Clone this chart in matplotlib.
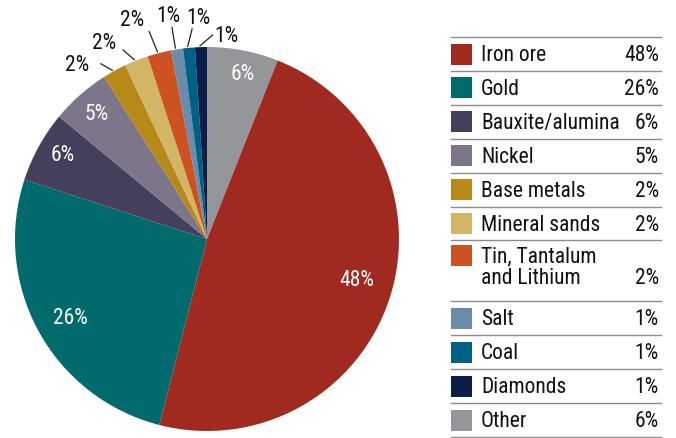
import numpy as np
import matplotlib
matplotlib.use("Agg")
import matplotlib.pyplot as plt
from matplotlib.patches import Rectangle

plt.rcParams['font.family'] = ['Roboto Condensed', 'Liberation Sans', 'DejaVu Sans']

# Share of mineral sales value by commodity (%)
categories = ["Iron ore", "Gold", "Bauxite/alumina", "Nickel", "Base metals",
              "Mineral sands", "Tin, Tantalum\nand Lithium", "Salt", "Coal",
              "Diamonds", "Other"]
shares = [48, 26, 6, 5, 2, 2, 2, 1, 1, 1, 6]
colors = ["#A12A20", "#016A6C", "#463F5C", "#7D7589", "#B68919",
          "#D2B566", "#CD5223", "#6A8CAA", "#016083", "#0B1E4A", "#959699"]
pct_labels = [f"{v}%" for v in shares]

W, H = 676, 439
fig = plt.figure(figsize=(W / 100, H / 100), dpi=100)
ax = fig.add_axes([0, 0, 1, 1])

FS = 15.5
CX, CY, R = 207, 199, 192

# pie: "Other" first, then clockwise from 12 o'clock
order = [len(shares) - 1] + list(range(len(shares) - 1))
wedges, _ = ax.pie([shares[i] for i in order],
                   colors=[colors[i] for i in order],
                   startangle=90, counterclock=False,
                   center=(CX, CY), radius=R,
                   wedgeprops=dict(linewidth=0))

def polar(theta_deg, r):
    t = np.deg2rad(theta_deg)
    return CX + r * R * np.cos(t), CY + r * R * np.sin(t)

mids = {}
for w, idx in zip(wedges, order):
    mids[idx] = 0.5 * (w.theta1 + w.theta2)

# labels inside the larger slices: (angle shift, radius)
inner = {0: (3.0, 0.81), 1: (1.0, 0.82), 2: (-1.5, 0.87),
         3: (0.0, 0.87), 10: (-1.5, 0.88)}
for idx, (da, r) in inner.items():
    x, y = polar(mids[idx] + da, r)
    ax.text(x, y, pct_labels[idx], color="white", fontsize=FS,
            ha="center", va="center")

# leader lines and labels outside the small slices:
# (line angle shift, line radius, text angle shift, text radius)
outer = {4: (2.5, 1.07, 7.8, 1.135),
         5: (2.4, 1.08, 6.0, 1.157),
         6: (1.2, 1.125, 4.5, 1.206),
         7: (0.4, 1.12, 0.9, 1.18),
         8: (-1.4, 1.10, -3.3, 1.157),
         9: (-3.5, 1.065, -7.2, 1.065)}
for idx, (dl, rl, dt, rt) in outer.items():
    m = mids[idx]
    x0, y0 = polar(m + 0.4, 1.005)
    x1, y1 = polar(m + dl, rl)
    ax.plot([x0, x1], [y0, y1], color="#222222", lw=0.9,
            solid_capstyle="butt")
    tx, ty = polar(m + dt, rt)
    ax.text(tx, ty, pct_labels[idx], color="#111111", fontsize=FS,
            ha="center", va="center")

# table-style legend on the right
LX0, LX1 = 451, 661
row_h = [33.9] * len(categories)
row_h[6] = 61
top = 38
rule_color = "#8C8C8C"
y = top
ax.plot([LX0, LX1], [H - y, H - y], color=rule_color, lw=1.0)
for i, name in enumerate(categories):
    sw_top = y + (5 if i == 6 else 6.5)
    ax.add_patch(Rectangle((LX0, H - sw_top - 21), 21, 21,
                           facecolor=colors[i], edgecolor="none"))
    if "\n" in name:
        first, second = name.split("\n")
        c1 = sw_top + 11
        ax.text(481, H - c1, first, fontsize=FS, color="#111111",
                ha="left", va="center")
        ax.text(481, H - c1 - 21.5, second, fontsize=FS, color="#111111",
                ha="left", va="center")
        ax.text(659, H - c1 - 21.5, pct_labels[i], fontsize=FS,
                color="#111111", ha="right", va="center")
    else:
        c = sw_top + 11
        ax.text(481, H - c, name, fontsize=FS, color="#111111",
                ha="left", va="center")
        ax.text(659, H - c, pct_labels[i], fontsize=FS, color="#111111",
                ha="right", va="center")
    y += row_h[i]
    ax.plot([LX0, LX1], [H - y, H - y], color=rule_color, lw=1.0)

ax.set_xlim(0, W)
ax.set_ylim(0, H)
ax.set_aspect("equal")
ax.axis("off")

fig.savefig("out.png", dpi=100)
